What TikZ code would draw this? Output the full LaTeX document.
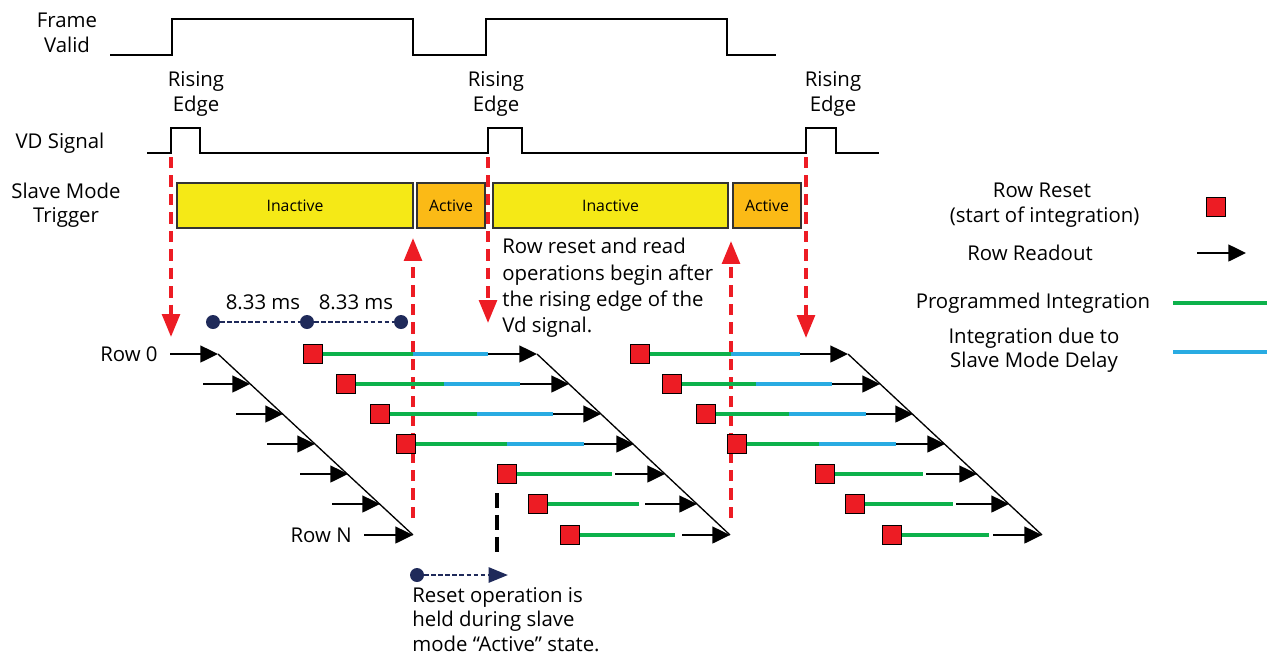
\documentclass[tikz,border=0pt]{standalone}
\usepackage{fontspec}
\setmainfont{Open Sans}
\usetikzlibrary{arrows.meta}

\definecolor{sigred}{RGB}{237,28,36}
\definecolor{inactyellow}{RGB}{245,233,22}
\definecolor{actorange}{RGB}{251,186,22}
\definecolor{intgreen}{RGB}{13,177,75}
\definecolor{delayblue}{RGB}{41,171,226}
\definecolor{markblue}{RGB}{31,42,90}

\begin{document}
\begin{tikzpicture}[x=0.02cm,y=-0.02cm,
    lbl/.style={font=\fontsize{11.6}{14}\selectfont,align=center,inner sep=0pt},
    note/.style={font=\fontsize{11.6}{15}\selectfont,align=left,inner sep=0pt,anchor=north west},
    statebox/.style={draw=black!80,line width=0.8pt,minimum height=0.9cm,inner sep=0pt,
      font=\fontsize{9}{11}\selectfont},
    vdline/.style={sigred,line width=2.1pt,dash pattern=on 6.5pt off 4pt,
      -{Triangle[length=13pt,width=10pt]}},
    rst/.style={draw=black,line width=0.8pt,fill=sigred,minimum size=10.5pt,inner sep=0pt},
    integ/.style={intgreen,line width=2.3pt},
    delay/.style={delayblue,line width=2.3pt},
    readout/.style={line width=1.2pt,-{Triangle[length=10pt,width=9.5pt]}},
    diag/.style={line width=0.75pt},
    dot/.style={circle,fill=markblue,minimum size=0.28cm,inner sep=0pt},
    dimline/.style={markblue,line width=1.6pt,dash pattern=on 2.5pt off 1.5pt}]

  \useasboundingbox (0,0) rectangle (1267,660);

  % signals
  \node[lbl] (fvlbl) at (67,33) {Frame\\Valid};
  \draw[line width=1.6pt] (110,55) -- (172,55) -- (172,19) -- (413,19) -- (413,55) -- (486,55)
    -- (486,19) -- (727,19) -- (727,55) -- (776,55);

  \node[lbl] (edge1) at (196,94) {Rising\\Edge};
  \node[lbl] (edge2) at (496,94) {Rising\\Edge};
  \node[lbl] (edge3) at (833,94) {Rising\\Edge};

  \node[lbl] (vdlbl) at (60,143) {VD Signal};
  \draw[line width=1.1pt] (147,153) -- (171,153) -- (171,128) -- (200,128) -- (200,153) -- (488,153)
    -- (488,128) -- (522,128) -- (522,153) -- (806,153) -- (806,128) -- (836,128) -- (836,153) -- (879,153);

  \node[lbl] (smlbl) at (66,205) {Slave Mode\\Trigger};
  \node[statebox,fill=inactyellow,minimum width=4.72cm] (inact1) at (295,205.5) {Inactive};
  \node[statebox,fill=actorange,minimum width=1.36cm] (act1) at (451,205.5) {Active};
  \node[statebox,fill=inactyellow,minimum width=4.7cm] (inact2) at (610.5,205.5) {Inactive};
  \node[statebox,fill=actorange,minimum width=1.36cm] (act2) at (767,205.5) {Active};

  % vd edges
  \draw[vdline] (171,157) -- (171,337);
  \draw[vdline] (413,518) -- (413,238);
  \draw[vdline] (488,157) -- (488,323);
  \draw[vdline] (731,518) -- (731,241);
  \draw[vdline] (806,157) -- (806,338);

  % 8.33 ms
  \node[dot] (d1) at (213,322) {};
  \node[dot] (d2) at (307,322) {};
  \node[dot] (d3) at (401,322) {};
  \draw[dimline] (d1) -- (d2) -- (d3);
  \node[lbl] (t1) at (263,302) {8.33 ms};
  \node[lbl] (t2) at (356,302) {8.33 ms};

  % previous frame readout
  \node[lbl,anchor=east] (row0) at (158,354) {Row 0};
  \node[lbl,anchor=east] (rowN) at (352,535) {Row N};
  \draw[diag] (218,354) -- (413,535);
  \draw[readout] (row0.east) ++(12,0) -- (218,354);
  \draw[readout] (203,384) -- (250,384);
  \draw[readout] (236,414) -- (283,414);
  \draw[readout] (267,444) -- (315,444);
  \draw[readout] (300,474) -- (348,474);
  \draw[readout] (332,504) -- (380,504);
  \draw[readout] (rowN.east) ++(12,0) -- (413,535);

  % second frame
  \draw[diag] (537,354) -- (730,535);
  \node[rst] (b0) at (313,354) {};
  \draw[integ] (b0.east) -- (413,354) coordinate (b0g);
  \draw[delay] (b0g) -- (488,354) coordinate (b0d);
  \draw[readout] (b0d) -- (537,354);
  \node[rst] (b1) at (346,384) {};
  \draw[integ] (b1.east) -- (444,384) coordinate (b1g);
  \draw[delay] (b1g) -- (520,384) coordinate (b1d);
  \draw[readout] (b1d) -- (569,384);
  \node[rst] (b2) at (380,414) {};
  \draw[integ] (b2.east) -- (477,414) coordinate (b2g);
  \draw[delay] (b2g) -- (553,414) coordinate (b2d);
  \draw[readout] (b2d) -- (601,414);
  \node[rst] (b3) at (406,444) {};
  \draw[integ] (b3.east) -- (507,444) coordinate (b3g);
  \draw[delay] (b3g) -- (584,444) coordinate (b3d);
  \draw[readout] (b3d) -- (634,444);
  \node[rst] (b4) at (507,474) {};
  \draw[integ] (b4.east) -- (612,474);
  \draw[readout] (615,474) -- (665,474);
  \node[rst] (b5) at (538,504) {};
  \draw[integ] (b5.east) -- (639,504);
  \draw[readout] (645,504) -- (697,504);
  \node[rst] (b6) at (570,535) {};
  \draw[integ] (b6.east) -- (675,535);
  \draw[readout] (682,535) -- (730,535);

  % third frame
  \draw[diag] (848,354) -- (1042,535);
  \node[rst] (c0) at (640,354) {};
  \draw[integ] (c0.east) -- (731,354) coordinate (c0g);
  \draw[delay] (c0g) -- (800,354) coordinate (c0d);
  \draw[readout] (c0d) -- (848,354);
  \node[rst] (c1) at (672,384) {};
  \draw[integ] (c1.east) -- (756,384) coordinate (c1g);
  \draw[delay] (c1g) -- (832,384) coordinate (c1d);
  \draw[readout] (c1d) -- (880,384);
  \node[rst] (c2) at (706,414) {};
  \draw[integ] (c2.east) -- (789,414) coordinate (c2g);
  \draw[delay] (c2g) -- (866,414) coordinate (c2d);
  \draw[readout] (c2d) -- (913,414);
  \node[rst] (c3) at (737,444) {};
  \draw[integ] (c3.east) -- (819,444) coordinate (c3g);
  \draw[delay] (c3g) -- (896,444) coordinate (c3d);
  \draw[readout] (c3d) -- (945,444);
  \node[rst] (c4) at (825,474) {};
  \draw[integ] (c4.east) -- (923,474);
  \draw[readout] (926,474) -- (977,474);
  \node[rst] (c5) at (855,504) {};
  \draw[integ] (c5.east) -- (953,504);
  \draw[readout] (956,504) -- (1009,504);
  \node[rst] (c6) at (892,535) {};
  \draw[integ] (c6.east) -- (989,535);
  \draw[readout] (993,535) -- (1042,535);

  % notes
  \node[note] (vdnote) at (502,238) {Row reset and read\\operations begin after\\the rising edge of the\\Vd signal.};
  \draw[line width=1.8pt,dash pattern=on 8.5pt off 4pt] (497,493) -- (497,556);
  \node[dot] (h0) at (417,575) {};
  \draw[dimline,-{Triangle[length=11pt,width=8.5pt]}] (h0) -- (508,575);
  \node[note,font=\fontsize{11.6}{14}\selectfont] (holdnote) at (412,587) {Reset operation is\\held during slave\\mode “Active” state.};

  % legend
  \node[lbl] (lgrst) at (1042,205) {Row Reset\\ \ (start of integration)};
  \node[rst] (lgsq) at (1216,207) {};
  \node[lbl] (lgread) at (1030,253) {Row Readout};
  \draw[readout] (1197,253) -- (1246,253);
  \node[lbl] (lgint) at (1033,303) {Programmed Integration};
  \draw[integ] (1173,303) -- (1267,303);
  \node[lbl] (lgdel) at (1034,350) {Integration due to\\Slave Mode Delay};
  \draw[delay] (1173,352) -- (1267,352);
\end{tikzpicture}
\end{document}
